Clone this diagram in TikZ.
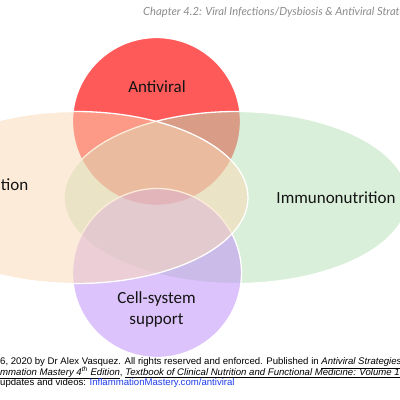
\documentclass[tikz,border=0pt]{standalone}
\usepackage{fontspec}
\setmainfont{Carlito}
\newfontfamily\arialf{Liberation Sans}
\newfontfamily\headf{Lato}
\definecolor{redc}{RGB}{255,90,90}
\definecolor{greenc}{RGB}{181,225,181}
\definecolor{purpc}{RGB}{189,137,249}
\definecolor{peachc}{RGB}{251,217,181}
\definecolor{headgray}{RGB}{140,140,140}
\definecolor{urlblue}{RGB}{30,60,235}
\definecolor{txt}{RGB}{20,20,20}
\tikzset{
  venn/.style={fill opacity=0.5, draw=white, draw opacity=1, line width=1.3pt},
  lab/.style={font=\fontsize{17pt}{21pt}\selectfont, text=txt, inner sep=0pt, align=center},
  foot/.style={font=\arialf\fontsize{9.6pt}{10pt}\selectfont, inner sep=0pt, anchor=west}
}
\begin{document}
\begin{tikzpicture}[x=1pt,y=-1pt]
\clip (0,0) rectangle (400,400);
\fill[white] (0,0) rectangle (400,400);
% shapes, drawn in order: top, right, bottom, left
\path[fill=redc, draw=white, line width=1.3pt] (156.5,121.5) circle [radius=84pt];
\path[venn, fill=greenc] (236,197.5) ellipse [x radius=172pt, y radius=86pt];
\path[venn, fill=purpc] (157,273) circle [radius=84.5pt];
\path[venn, fill=peachc] (76,197.5) ellipse [x radius=172pt, y radius=86pt];
% labels
\node[lab] (antiviral) at (157,87) {Antiviral};
\node[lab] (immuno) at (336,198) {Immunonutrition};
\node[lab] (cellsys) at (156.5,309) {Cell-system\\support};
\node[lab, anchor=east] (leftlab) at (28.5,185) {ation};
% header
\node[font=\headf\itshape\fontsize{11.2pt}{13pt}\selectfont, text=headgray, inner sep=0pt, anchor=west] (header) at (143,12) {Chapter 4.2: Viral Infections/Dysbiosis \& Antiviral Strategies};
% footer
\node[foot] (foot1) at (0,363) {6, 2020 by Dr Alex Vasquez. All rights reserved and enforced. Published in \underline{\itshape Antiviral Strategies}};
\node[foot] (foot2) at (0,373) {\underline{\itshape mmation Mastery 4\textsuperscript{th} Edition}, \underline{\itshape Textbook of Clinical Nutrition and Functional Medicine: Volume 1}};
\node[foot] (foot3) at (0,383) {updates and videos: \textcolor{urlblue}{InflammationMastery.com/antiviral}};
\end{tikzpicture}
\end{document}
